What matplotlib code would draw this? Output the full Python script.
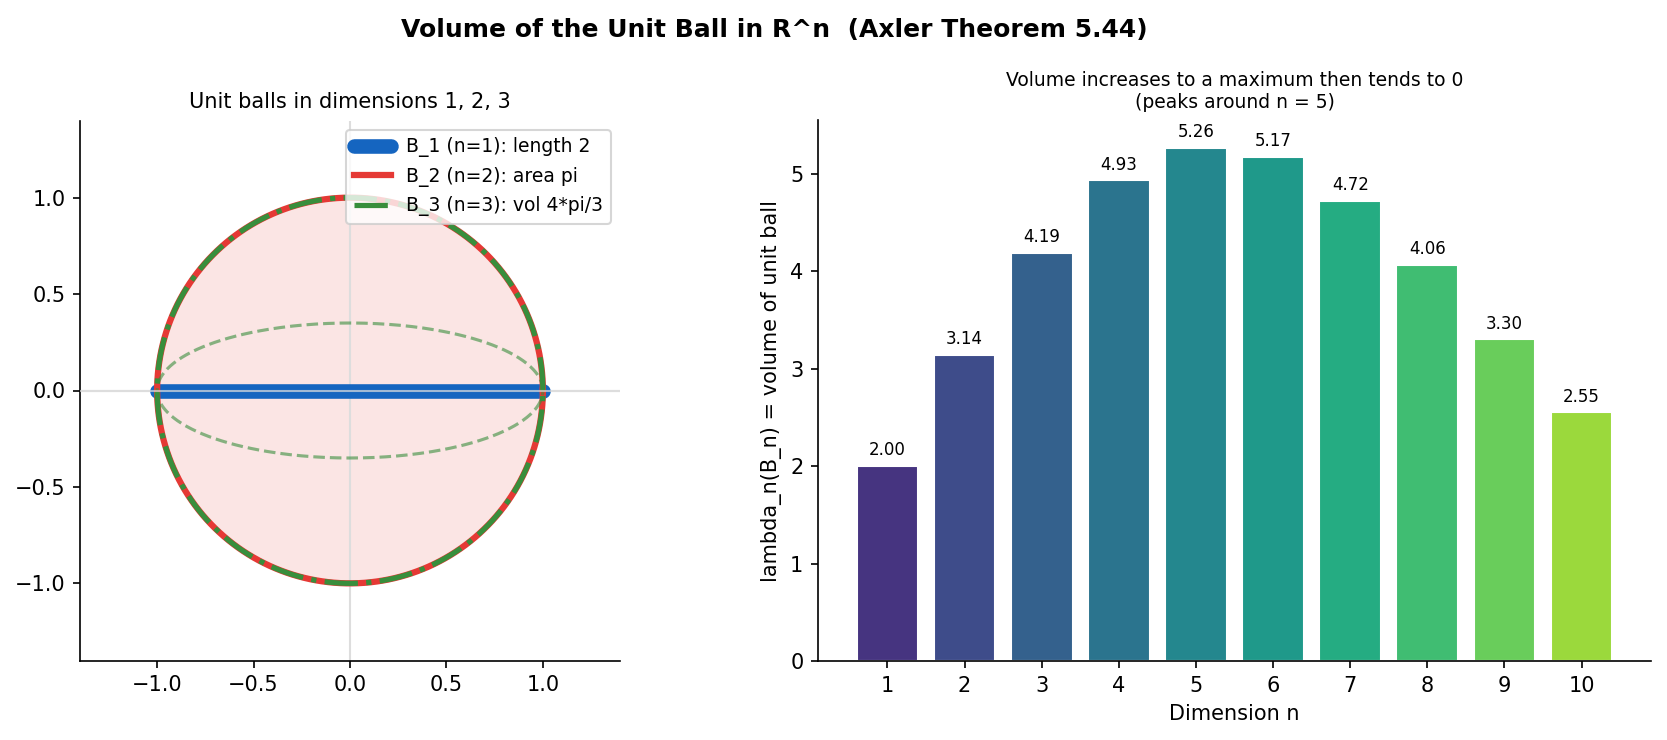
import numpy as np
import matplotlib
matplotlib.use("Agg")
import matplotlib.pyplot as plt
from matplotlib.patches import Circle

dims = [1, 2, 3, 4, 5, 6, 7, 8, 9, 10]
volumes = [2.00, 3.14, 4.19, 4.93, 5.26, 5.17, 4.72, 4.06, 3.30, 2.55]
legend_labels = ["B_1 (n=1): length 2", "B_2 (n=2): area pi", "B_3 (n=3): vol 4*pi/3"]

fig = plt.figure(figsize=(1667/150, 740/150), dpi=150)
ax1 = fig.add_axes([80/1667, 1-661/740, 540/1667, 541/740])
ax2 = fig.add_axes([818/1667, 1-661/740, 833/1667, 541/740])

fig.suptitle("Volume of the Unit Ball in R^n  (Axler Theorem 5.44)", fontsize=12,
             fontweight="bold", x=0.4646, y=0.976)

# Left panel
t = np.linspace(0, 2*np.pi, 400)
ax1.axhline(0, color="#dddddd", lw=1, zorder=1)
ax1.axvline(0, color="#dddddd", lw=1, zorder=1)
ax1.add_patch(Circle((0, 0), 1, facecolor="#e53935", alpha=0.13, edgecolor="none", zorder=0))
ax1.plot([-1, 1], [0, 0], color="#1565c0", lw=7, solid_capstyle="round",
         label=legend_labels[0], zorder=2)
ax1.plot(np.cos(t), np.sin(t), color="#e53935", lw=3, label=legend_labels[1], zorder=3)
ax1.plot(np.cos(t), np.sin(t), color="#388e3c", lw=2.5, ls="-.",
         label=legend_labels[2], zorder=4)
ax1.plot(np.cos(t), 0.35*np.sin(t), color="#388e3c", lw=1.5, ls="--", alpha=0.6, zorder=3)
ax1.axhline(0, color="#dddddd", lw=1, alpha=0.7, zorder=5)
ax1.set_xlim(-1.4, 1.4)
ax1.set_ylim(-1.4, 1.4)
ax1.set_aspect("equal")
ax1.set_xticks([-1.0, -0.5, 0.0, 0.5, 1.0])
ax1.set_yticks([-1.0, -0.5, 0.0, 0.5, 1.0])
ax1.set_title("Unit balls in dimensions 1, 2, 3", fontsize=10)
ax1.legend(loc="upper right", fontsize=9)
for s in ["top", "right"]:
    ax1.spines[s].set_visible(False)

# Right panel
colors = plt.cm.viridis(np.linspace(0.15, 0.85, len(dims)))
bars = ax2.bar(dims, volumes, color=colors, edgecolor="white", width=0.8)
for x, v in zip(dims, volumes):
    ax2.text(x, v + 0.07, f"{v:.2f}", ha="center", va="bottom", fontsize=8)
ax2.set_xticks(dims)
ax2.set_xlim(0.1, 10.9)
ax2.set_ylim(0, 5.55)
ax2.set_xlabel("Dimension n", fontsize=10)
ax2.set_ylabel("lambda_n(B_n) = volume of unit ball", fontsize=10)
ax2.set_title("Volume increases to a maximum then tends to 0\n(peaks around n = 5)", fontsize=9)
for s in ["top", "right"]:
    ax2.spines[s].set_visible(False)

fig.savefig("out.png", dpi=150)
